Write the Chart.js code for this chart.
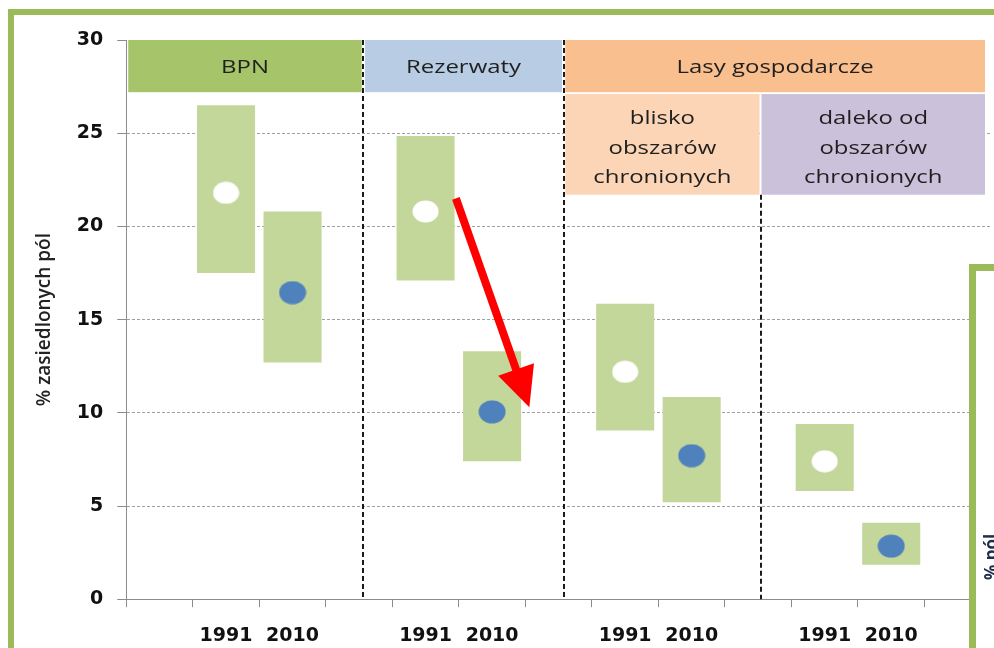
<!DOCTYPE html>
<html><head><meta charset="utf-8">
<script src="https://cdn.jsdelivr.net/npm/chart.js@4/dist/chart.umd.min.js"></script>
<style>html,body{margin:0;padding:0;background:#fff;}#wrap{width:994px;height:648px;position:relative}</style>
</head><body><div id="wrap"><canvas id="c" width="994" height="648"></canvas></div>
<script>
// ---- data ----
const categories = ['', '1991', '2010', '', '1991', '2010', '', '1991', '2010', '', '1991', '2010', ''];
const rangeLow   = [null, 17.5, 12.7, null, 17.1, 7.4, null, 9.05, 5.2, null, 5.8, 1.85, null];
const rangeHigh  = [null, 26.5, 20.8, null, 24.85, 13.3, null, 15.85, 10.85, null, 9.4, 4.1, null];
const values1991 = [null, 21.8, null, null, 20.8, null, null, 12.2, null, null, 7.4, null, null];
const values2010 = [null, null, 16.45, null, null, 10.05, null, null, 7.7, null, null, 2.85, null];
const yTicks = [0, 5, 10, 15, 20, 25, 30];
const yTitle = '% zasiedlonych pól';
const groupNames = ['BPN', 'Rezerwaty', 'Lasy gospodarcze'];
const groupFrom  = [-0.47, 3.09, 6.10];
const groupTo    = [3.04, 6.05, 12.41];
const groupTop = 30, groupBottom = 27.2;
const subgroupNames = [['blisko', 'obszarów', 'chronionych'], ['daleko od', 'obszarów', 'chronionych']];
const subgroupFrom  = [6.10, 9.05];
const subgroupTo    = [9.02, 12.41];
const subTop = 27.1, subBottom = 21.7;
const dividerAt  = [3.065, 6.075, 9.035];
const dividerTop = [30, 30, 21.7];
const arrowFrom = [4.456, 21.5];
const arrowTo   = [5.56, 10.3];
const overlayText = '% pól';

// ---- styles ----
const groupColors = ['#a6c46a', '#b8cce4', '#f9bf8f'];
const subColors = ['#fbd5b5', '#ccc1da'];
const frameGreen = '#9bbb59';

function ellipse(fill, w, h) {
  const c = document.createElement('canvas');
  c.width = w; c.height = h;
  const g = c.getContext('2d');
  g.fillStyle = fill;
  g.beginPath();
  g.ellipse(w / 2, h / 2, w / 2 - 0.5, h / 2 - 0.5, 0, 0, Math.PI * 2);
  g.fill();
  return c;
}
const whiteDot = ellipse('#ffffff', 27, 23);
const blueDot = ellipse('#4f81bd', 28, 24);

function stretchedText(ctx, txt, x, y, sx) {
  ctx.save();
  ctx.translate(x, y);
  ctx.scale(sx, 1);
  ctx.fillText(txt, 0, 0);
  ctx.restore();
}

const decor = {
  id: 'decor',
  beforeDraw(chart) {
    const ctx = chart.ctx;
    ctx.save();
    ctx.fillStyle = '#ffffff';
    ctx.fillRect(0, 0, chart.width, chart.height);
    ctx.restore();
  },
  beforeDatasetsDraw(chart) {
    const ctx = chart.ctx, xs = chart.scales.x, ys = chart.scales.y;
    ctx.save();
    ctx.strokeStyle = '#1a1a1a';
    ctx.lineWidth = 2;
    ctx.setLineDash([5, 3]);
    dividerAt.forEach((v, i) => {
      const x = Math.round(xs.getPixelForValue(v));
      ctx.beginPath();
      ctx.moveTo(x, ys.getPixelForValue(dividerTop[i]));
      ctx.lineTo(x, ys.getPixelForValue(0));
      ctx.stroke();
    });
    ctx.setLineDash([]);
    const gt = ys.getPixelForValue(groupTop), gb = ys.getPixelForValue(groupBottom);
    ctx.font = '19px "Open Sans"';
    ctx.textAlign = 'center';
    ctx.textBaseline = 'middle';
    groupNames.forEach((n, i) => {
      const x1 = xs.getPixelForValue(groupFrom[i]), x2 = xs.getPixelForValue(groupTo[i]);
      ctx.fillStyle = groupColors[i];
      ctx.fillRect(x1, gt, x2 - x1, gb - gt);
      ctx.fillStyle = '#1f1f1f';
      stretchedText(ctx, n, (x1 + x2) / 2, (gt + gb) / 2 + 1, 1.26);
    });
    const st = ys.getPixelForValue(subTop), sb = ys.getPixelForValue(subBottom);
    subgroupNames.forEach((lines, i) => {
      const x1 = xs.getPixelForValue(subgroupFrom[i]), x2 = xs.getPixelForValue(subgroupTo[i]);
      ctx.fillStyle = subColors[i];
      ctx.fillRect(x1, st, x2 - x1, sb - st);
      ctx.fillStyle = '#1f1f1f';
      const cy = (st + sb) / 2, lh = 29.5;
      lines.forEach((l, k) => stretchedText(ctx, l, (x1 + x2) / 2, cy + (k - 1) * lh + 4, 1.26));
    });
    ctx.strokeStyle = '#1a1a1a';
    ctx.lineWidth = 2;
    ctx.setLineDash([5, 3]);
    dividerAt.forEach((v, i) => {
      if (dividerTop[i] < groupTop) return;
      const x = Math.round(xs.getPixelForValue(v));
      ctx.beginPath();
      ctx.moveTo(x, gt);
      ctx.lineTo(x, ys.getPixelForValue(0));
      ctx.stroke();
    });
    ctx.restore();
  },
  afterDatasetsDraw(chart) {
    const ctx = chart.ctx, xs = chart.scales.x, ys = chart.scales.y;
    const x1 = xs.getPixelForValue(arrowFrom[0]), y1 = ys.getPixelForValue(arrowFrom[1]);
    const x2 = xs.getPixelForValue(arrowTo[0]), y2 = ys.getPixelForValue(arrowTo[1]);
    const a = Math.atan2(y2 - y1, x2 - x1);
    const hl = 40, hw = 19;
    const bx = x2 - hl * Math.cos(a), by = y2 - hl * Math.sin(a);
    ctx.save();
    ctx.strokeStyle = '#ff0000';
    ctx.fillStyle = '#ff0000';
    ctx.lineWidth = 8;
    ctx.lineCap = 'butt';
    ctx.beginPath();
    ctx.moveTo(x1, y1);
    ctx.lineTo(bx + 4 * Math.cos(a), by + 4 * Math.sin(a));
    ctx.stroke();
    ctx.beginPath();
    ctx.moveTo(x2, y2);
    ctx.lineTo(bx + hw * Math.sin(a), by - hw * Math.cos(a));
    ctx.lineTo(bx - hw * Math.sin(a), by + hw * Math.cos(a));
    ctx.closePath();
    ctx.fill();
    ctx.restore();
  },
  afterDraw(chart) {
    const ctx = chart.ctx;
    ctx.save();
    ctx.fillStyle = frameGreen;
    ctx.fillRect(8, 9, chart.width - 8, 6);
    ctx.fillRect(8, 9, 6, chart.height - 9);
    ctx.fillStyle = '#ffffff';
    ctx.fillRect(969, 264, chart.width - 969, chart.height - 264);
    ctx.fillStyle = frameGreen;
    ctx.fillRect(969, 264, 7, chart.height - 264);
    ctx.fillRect(969, 264, chart.width - 969, 7);
    ctx.translate(984, 557);
    ctx.rotate(-Math.PI / 2);
    ctx.font = 'bold 17px "Open Sans"';
    ctx.fillStyle = '#1f2d4a';
    ctx.textAlign = 'center';
    ctx.textBaseline = 'top';
    ctx.fillText(overlayText, 0, 0);
    ctx.restore();
  }
};

new Chart(document.getElementById('c'), {
  type: 'bar',
  data: {
    labels: categories,
    datasets: [
      {
        type: 'line', label: '1991', data: values1991, showLine: false,
        pointStyle: whiteDot, pointRadius: 12, pointHoverRadius: 12, order: 0
      },
      {
        type: 'line', label: '2010', data: values2010, showLine: false,
        pointStyle: blueDot, pointRadius: 12, pointHoverRadius: 12, order: 0
      },
      {
        type: 'bar', label: 'range', data: rangeLow.map((l, i) => l === null ? null : [l, rangeHigh[i]]),
        backgroundColor: '#c4d79b', borderWidth: 0, barPercentage: 0.873, categoryPercentage: 1, order: 1
      }
    ]
  },
  options: {
    responsive: false,
    animation: false,
    events: [],
    layout: { autoPadding: false, padding: { left: 22, top: 40, right: 3, bottom: -16 } },
    plugins: { legend: { display: false }, tooltip: { enabled: false } },
    scales: {
      x: {
        offset: true,
        afterFit: s => { s.paddingLeft = 0; s.paddingRight = 0; },
        grid: { offset: true, drawOnChartArea: false, drawTicks: true, tickLength: 8, tickColor: '#8c8c8c', color: '#8c8c8c' },
        border: { color: '#8c8c8c', width: 1 },
        ticks: { font: { family: 'DejaVu Sans', weight: 'bold', size: 19 }, color: '#111', padding: 17, autoSkip: false, maxRotation: 0 }
      },
      y: {
        min: 0, max: 30,
        afterBuildTicks: s => { s.ticks = yTicks.map(v => ({ value: v })); },
        ticks: { font: { family: 'DejaVu Sans', weight: 'bold', size: 19 }, color: '#111', padding: 14 },
        grid: {
          color: c => (c.tick && (c.tick.value === 0 || c.tick.value === 30)) ? 'rgba(0,0,0,0)' : '#a0a0a0',
          lineWidth: 1, tickColor: '#8c8c8c', tickLength: 9
        },
        border: { color: '#8c8c8c', width: 1, dash: [3, 2] },
        title: { display: true, text: yTitle, font: { family: 'Open Sans', size: 19, weight: '600' }, color: '#222', padding: { top: 11, bottom: 7 } }
      }
    }
  },
  plugins: [decor]
});
</script>
</body></html>
